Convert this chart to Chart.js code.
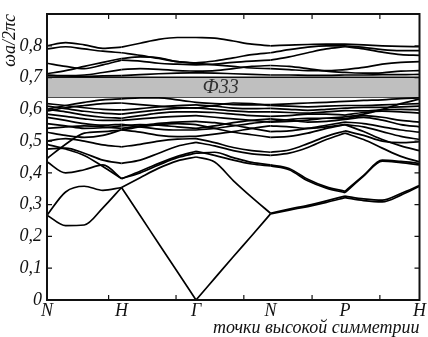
<!DOCTYPE html>
<html>
<head>
<meta charset="utf-8">
<script src="https://cdn.jsdelivr.net/npm/chart.js@4"></script>
<style>
html, body { margin: 0; padding: 0; background: #fff; }
#wrap { width: 428px; height: 337px; position: relative; }
</style>
</head>
<body>
<div id="wrap"><canvas id="band-plot"></canvas></div>
<script>
// path coordinate: N=0, H=1, Γ=2, N=3, P=4, H=5
let k_path = [0, 0.25, 0.5, 0.75, 1, 1.25, 1.5, 1.75, 2, 2.25, 2.5, 2.75, 3, 3.25, 3.5, 3.75, 4, 4.25, 4.5, 4.75, 5]
let sym_pos = [0, 1, 2, 3, 4, 5]
let sym_labels = ['N', 'H', 'Γ', 'N', 'P', 'H']
let minor_ticks = [0.827, 1.732, 2.642, 3.558, 4.468]
let y_ticks = [0, 0.1, 0.2, 0.3, 0.4, 0.5, 0.6, 0.7, 0.8]

let gap_low = 0.639
let gap_high = 0.701
let gap_label = 'Ф33'

// bands, ωa/2πc
let band_01 = [.267,.234,.236,.290,.354,.266,.177,.089,0,.068,.136,.203,.271,.283,.294,.307,.322,.313,.309,.330,.358]
let band_02 = [.267,.340,.358,.345,.354,.385,.415,.438,.450,.434,.376,.323,.273,.286,.298,.312,.327,.318,.314,.335,.360]
let band_03 = [.435,.400,.410,.425,.382,.405,.430,.452,.468,.455,.440,.428,.422,.410,.375,.352,.338,.390,.437,.432,.425]
let band_04 = [.490,.475,.455,.420,.382,.400,.425,.448,.462,.465,.448,.433,.425,.414,.380,.356,.342,.392,.440,.436,.430]
let band_05 = [.475,.478,.462,.440,.430,.440,.462,.484,.496,.485,.470,.460,.455,.462,.480,.505,.525,.505,.478,.452,.435]
let band_06 = [.500,.508,.500,.488,.482,.490,.500,.506,.508,.495,.480,.470,.465,.472,.492,.515,.532,.518,.500,.495,.498]
let band_07 = [.445,.490,.525,.530,.535,.545,.552,.555,.552,.540,.528,.520,.512,.515,.525,.540,.552,.530,.505,.485,.470]
let band_08 = [.528,.518,.512,.518,.535,.528,.518,.514,.515,.522,.530,.540,.548,.545,.540,.545,.552,.545,.530,.515,.505]
let band_09 = [.540,.545,.548,.545,.540,.548,.556,.560,.562,.558,.550,.540,.530,.532,.540,.550,.560,.555,.545,.535,.528]
let band_10 = [.555,.548,.540,.542,.548,.552,.550,.545,.540,.548,.558,.565,.570,.566,.560,.562,.568,.575,.566,.552,.545]
let band_11 = [.575,.565,.555,.550,.553,.545,.538,.535,.535,.540,.548,.556,.562,.568,.572,.572,.570,.580,.575,.565,.560]
let band_12 = [.585,.578,.570,.565,.565,.570,.575,.578,.580,.575,.570,.565,.560,.562,.566,.572,.576,.585,.600,.618,.632]
let band_13 = [.600,.592,.582,.575,.572,.580,.588,.592,.592,.590,.585,.580,.578,.580,.585,.585,.582,.590,.594,.592,.588]
let band_14 = [.610,.602,.594,.588,.585,.592,.598,.603,.605,.600,.595,.592,.592,.590,.588,.592,.596,.595,.598,.600,.598]
let band_15 = [.618,.612,.605,.600,.598,.602,.608,.612,.614,.610,.604,.602,.603,.600,.597,.600,.604,.606,.606,.608,.610]
let band_16 = [.595,.605,.612,.618,.620,.615,.610,.606,.604,.612,.620,.618,.612,.610,.608,.610,.612,.612,.614,.616,.618]
let band_17 = [.600,.612,.622,.630,.633,.636,.636,.630,.622,.618,.615,.614,.615,.617,.620,.622,.625,.628,.630,.634,.636]
let band_18 = [.706,.705,.704,.705,.706,.709,.712,.714,.715,.714,.712,.710,.708,.708,.707,.707,.708,.708,.709,.709,.710]
let band_19 = [.708,.706,.708,.716,.725,.728,.726,.722,.720,.722,.728,.735,.738,.735,.728,.720,.716,.714,.715,.720,.722]
let band_20 = [.712,.722,.735,.748,.760,.765,.762,.750,.745,.740,.735,.730,.728,.725,.722,.722,.725,.732,.742,.748,.750]
let band_21 = [.745,.735,.728,.740,.755,.752,.745,.742,.740,.742,.748,.752,.755,.765,.778,.790,.797,.790,.780,.772,.770]
let band_22 = [.790,.797,.790,.783,.778,.770,.760,.750,.746,.752,.762,.772,.778,.788,.796,.800,.800,.795,.788,.785,.785]
let band_23 = [.800,.810,.803,.792,.796,.808,.820,.826,.826,.824,.815,.805,.800,.802,.804,.805,.805,.803,.800,.798,.797]

let all_bands = [band_01, band_02, band_03, band_04, band_05, band_06, band_07, band_08, band_09, band_10,
    band_11, band_12, band_13, band_14, band_15, band_16, band_17, band_18, band_19, band_20, band_21, band_22, band_23]

const serif_italic = {family: '"Liberation Serif", "DejaVu Serif", serif', style: 'italic', size: 18, lineHeight: 1}

// each band is drawn piece by piece between symmetry points, so it can kink there
function band_pieces(arr) {
    let pieces = []
    for (let s = 0; s < sym_pos.length - 1; s++) {
        let pts = []
        k_path.forEach((k, i) => {
            if (k >= sym_pos[s] && k <= sym_pos[s + 1]) pts.push({x: k, y: arr[i]})
        })
        pieces.push({
            data: pts,
            borderColor: '#000',
            borderWidth: 1.7,
            pointRadius: 0,
            cubicInterpolationMode: 'monotone',
            fill: false,
            order: 0
        })
    }
    return pieces
}

let band_datasets = []
all_bands.forEach(b => { band_datasets = band_datasets.concat(band_pieces(b)) })

let gap_datasets = [
    {data: [{x: 0, y: gap_high}, {x: 5, y: gap_high}], borderColor: '#111', borderWidth: 1.5, pointRadius: 0,
        fill: '+1', backgroundColor: '#bfbfbf', order: 5},
    {data: [{x: 0, y: gap_low}, {x: 5, y: gap_low}], borderColor: '#111', borderWidth: 1.5, pointRadius: 0,
        fill: false, order: 5}
]

// inward tick marks on all four sides, frame, and the gap label
const frame_plugin = {
    id: 'frame_ticks',
    afterDatasetsDraw(chart) {
        const ctx = chart.ctx
        const a = chart.chartArea
        const xs = chart.scales.x, ys = chart.scales.y
        ctx.save()
        ctx.font = 'italic 20px "Liberation Serif", serif'
        ctx.fillStyle = '#333'
        ctx.textAlign = 'center'
        ctx.textBaseline = 'middle'
        ctx.fillText(gap_label, xs.getPixelForValue(2.33), ys.getPixelForValue((gap_low + gap_high) / 2) + 1)
        ctx.strokeStyle = '#111'
        ctx.lineWidth = 1.2
        ctx.beginPath()
        minor_ticks.forEach(t => {
            const px = xs.getPixelForValue(t)
            ctx.moveTo(px, a.bottom); ctx.lineTo(px, a.bottom - 5)
            ctx.moveTo(px, a.top); ctx.lineTo(px, a.top + 5)
        })
        y_ticks.forEach(t => {
            const py = ys.getPixelForValue(t)
            ctx.moveTo(a.left, py); ctx.lineTo(a.left + 5, py)
            ctx.moveTo(a.right, py); ctx.lineTo(a.right - 5, py)
        })
        ctx.stroke()
        ctx.lineWidth = 2
        ctx.strokeRect(a.left, a.top, a.right - a.left, a.bottom - a.top)
        ctx.restore()
    }
}

document.addEventListener('DOMContentLoaded', () => {
    Chart.defaults.color = '#111'
    let ctx = document.getElementById('band-plot')
    new Chart(ctx, {
        type: 'line',
        data: {datasets: gap_datasets.concat(band_datasets)},
        options: {
            responsive: true,
            maintainAspectRatio: false,
            animation: false,
            layout: {padding: {top: 1, right: 2, left: 0, bottom: 0}},
            plugins: {legend: {display: false}, tooltip: {enabled: false}},
            scales: {
                x: {
                    type: 'linear', min: 0, max: 5,
                    grid: {display: false, drawTicks: false},
                    border: {display: false},
                    afterBuildTicks: (s) => { s.ticks = sym_pos.map(v => ({value: v})) },
                    afterFit: (s) => { s.height = 37 },
                    ticks: {
                        autoSkip: false, maxRotation: 0, padding: 2, font: serif_italic,
                        callback: (v, i) => sym_labels[i]
                    },
                    title: {
                        display: true, text: 'точки высокой симметрии', align: 'end',
                        font: serif_italic, padding: {top: 0, bottom: 0}
                    }
                },
                y: {
                    type: 'linear', min: 0, max: 0.9,
                    grid: {display: false, drawTicks: false},
                    border: {display: false},
                    afterBuildTicks: (s) => { s.ticks = y_ticks.map(v => ({value: v})) },
                    afterFit: (s) => { s.width = 47 },
                    ticks: {
                        padding: 5, font: serif_italic,
                        callback: (v) => v === 0 ? '0' : v.toFixed(1).replace('.', ',')
                    },
                    title: {
                        display: true, text: 'ωa/2πc', align: 'end',
                        font: serif_italic, padding: {top: 1, bottom: 0}
                    }
                }
            }
        },
        plugins: [frame_plugin]
    })
})
</script>
</body>
</html>
